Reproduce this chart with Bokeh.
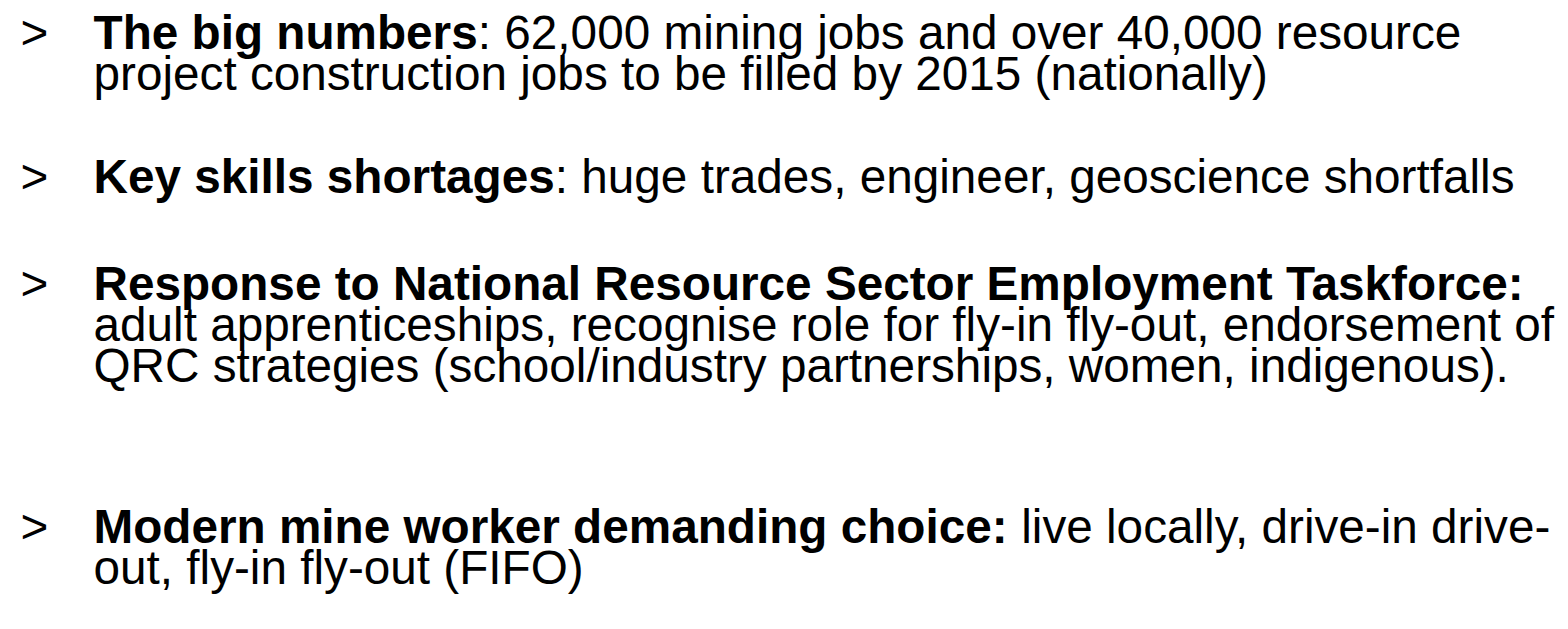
from bokeh.plotting import figure
from bokeh.models import ColumnDataSource, Range1d
from bokeh.core.properties import value
from bokeh.embed import file_html
from bokeh.resources import INLINE

# ---- content ----
bullet_lines = [1, 3, 4, 7]  # lines that carry a ">" bullet
line_bold = [
    "The big numbers",
    "",
    "Key skills shortages",
    "Response to National Resource Sector Employment Taskforce:",
    "",
    "",
    "Modern mine worker demanding choice:",
    "",
]
line_normal = [
    ": 62,000 mining jobs and over 40,000 resource",
    "project construction jobs to be filled by 2015 (nationally)",
    ": huge trades, engineer, geoscience shortfalls",
    "",
    "adult apprenticeships, recognise role for fly-in fly-out, endorsement of",
    "QRC strategies (school/industry partnerships, women, indigenous).",
    "live locally, drive-in drive-",
    "out, fly-in fly-out (FIFO)",
]

# ---- layout (pixel positions on the page) ----
baselines = [40, 81, 184, 291, 332, 373, 534, 575]
text_x = 101
bullet_x = 28
FS = 47.7
# width (in em) of the bold run that precedes each normal run (Helvetica metrics)
normal_offset_em = [8.057, 0, 9.671, 0, 0, 0, 19.171 + 0.278, 0]
FONT = value("Liberation Sans")
SIZE = f"{FS}px"

W, H = 1560, 613
p = figure(width=W, height=H, output_backend="svg", toolbar_location=None,
           x_range=Range1d(8, 8 + W), y_range=Range1d(8 + H, 8),
           min_border=0)
p.axis.visible = False
p.grid.visible = False
p.outline_line_color = None
p.background_fill_color = "white"
p.border_fill_color = "white"

bsrc = ColumnDataSource(dict(
    x=[bullet_x] * len(bullet_lines),
    y=[baselines[i - 1] for i in bullet_lines],
    t=[">"] * len(bullet_lines)))
p.text("x", "y", "t", source=bsrc, text_font=FONT, text_font_size=SIZE,
       text_baseline="alphabetic", text_align="left", text_color="black")

bx, by, bt = [], [], []
nx, ny, nt = [], [], []
for i in range(len(baselines)):
    if line_bold[i]:
        bx.append(text_x); by.append(baselines[i]); bt.append(line_bold[i])
    if line_normal[i]:
        nx.append(text_x + normal_offset_em[i] * FS); ny.append(baselines[i]); nt.append(line_normal[i])

p.text("x", "y", "t", source=ColumnDataSource(dict(x=bx, y=by, t=bt)),
       text_font=FONT, text_font_size=SIZE, text_font_style="bold",
       text_baseline="alphabetic", text_align="left", text_color="black")
p.text("x", "y", "t", source=ColumnDataSource(dict(x=nx, y=ny, t=nt)),
       text_font=FONT, text_font_size=SIZE,
       text_baseline="alphabetic", text_align="left", text_color="black")

open("out.html", "w").write(file_html(p, INLINE))
